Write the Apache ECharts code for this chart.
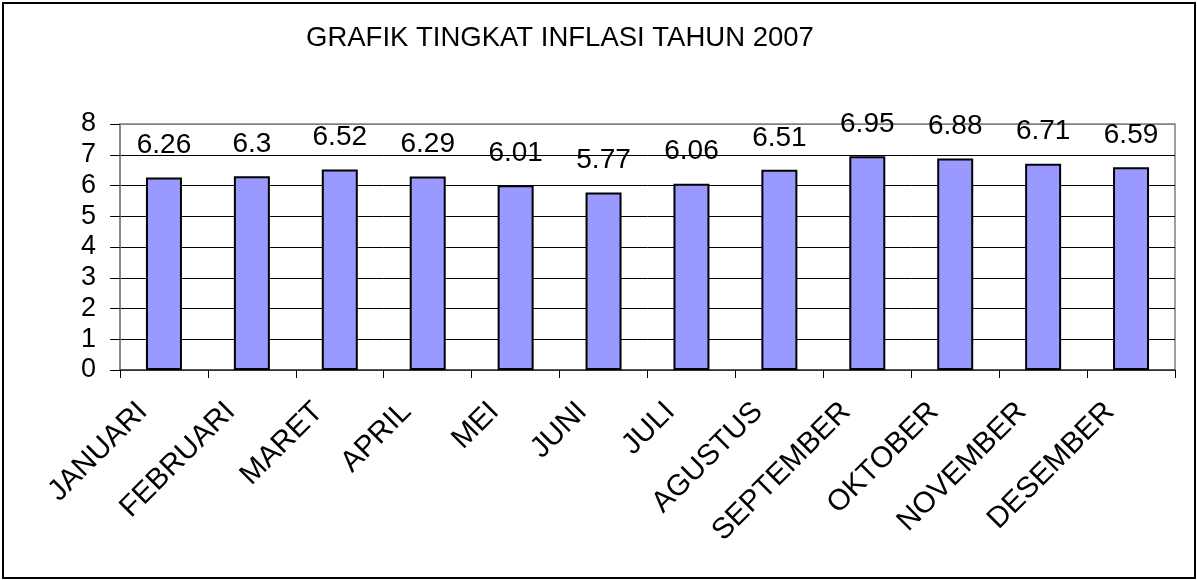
<!DOCTYPE html>
<html>
<head>
<meta charset="utf-8">
<script src="https://cdn.jsdelivr.net/npm/echarts@6/dist/echarts.min.js"></script>
<style>
  html, body { margin: 0; padding: 0; background: #fff; }
  #chart { width: 1197px; height: 580px; }
</style>
</head>
<body>
<div id="chart"></div>
<script>
const titleText = 'GRAFIK TINGKAT INFLASI TAHUN 2007';
const categories = ['JANUARI', 'FEBRUARI', 'MARET', 'APRIL', 'MEI', 'JUNI', 'JULI', 'AGUSTUS', 'SEPTEMBER', 'OKTOBER', 'NOVEMBER', 'DESEMBER'];
const inflation = [6.26, 6.3, 6.52, 6.29, 6.01, 5.77, 6.06, 6.51, 6.95, 6.88, 6.71, 6.59];
const yTicks = { min: 0, max: 8, interval: 1 };

const FONT = '"Liberation Sans", Arial, sans-serif';
const chart = echarts.init(document.getElementById('chart'), null, { renderer: 'canvas' });
chart.setOption({
  animation: false,
  backgroundColor: '#fff',
  graphic: [{
    type: 'rect',
    shape: { x: 3, y: 3, width: 1192, height: 575 },
    style: { fill: 'none', stroke: '#000', lineWidth: 2 },
    z: 100
  }],
  title: {
    text: titleText,
    left: 306,
    top: 24,
    padding: 0,
    textStyle: { fontFamily: FONT, fontSize: 27.5, fontWeight: 'normal', color: '#000' }
  },
  grid: {
    left: 120, right: 22, top: 124, bottom: 210,
    show: true, borderColor: '#808080', borderWidth: 1.5, backgroundColor: 'transparent'
  },
  xAxis: {
    type: 'category',
    data: categories,
    boundaryGap: true,
    axisLine: { show: true, lineStyle: { color: '#404040', width: 1.5 } },
    axisTick: { show: true, alignWithLabel: false, length: 8, lineStyle: { color: '#000', width: 1 } },
    axisLabel: {
      rotate: 45, interval: 0, margin: 16,
      padding: [0, 30, 0, 0],
      fontFamily: FONT, fontSize: 29.5, color: '#000'
    },
    splitLine: { show: false }
  },
  yAxis: {
    type: 'value',
    min: yTicks.min, max: yTicks.max, interval: yTicks.interval,
    axisLine: { show: true, lineStyle: { color: '#808080', width: 1.5 } },
    axisTick: { show: true, length: 10, lineStyle: { color: '#000', width: 1 } },
    axisLabel: { margin: 24, fontFamily: FONT, fontSize: 27, color: '#000' },
    splitLine: { show: true, lineStyle: { color: ['#000','#000','#000','#000','#000','#000','#000','#000','#808080'], width: 1 } }
  },
  series: [{
    type: 'bar',
    data: inflation,
    barWidth: 36,
    itemStyle: { color: '#9999FF', borderColor: '#000', borderWidth: 2 },
    label: {
      show: true, position: 'top', distance: 18,
      fontFamily: FONT, fontSize: 28, color: '#000',
      formatter: p => String(p.value)
    }
  }]
});
</script>
</body>
</html>
